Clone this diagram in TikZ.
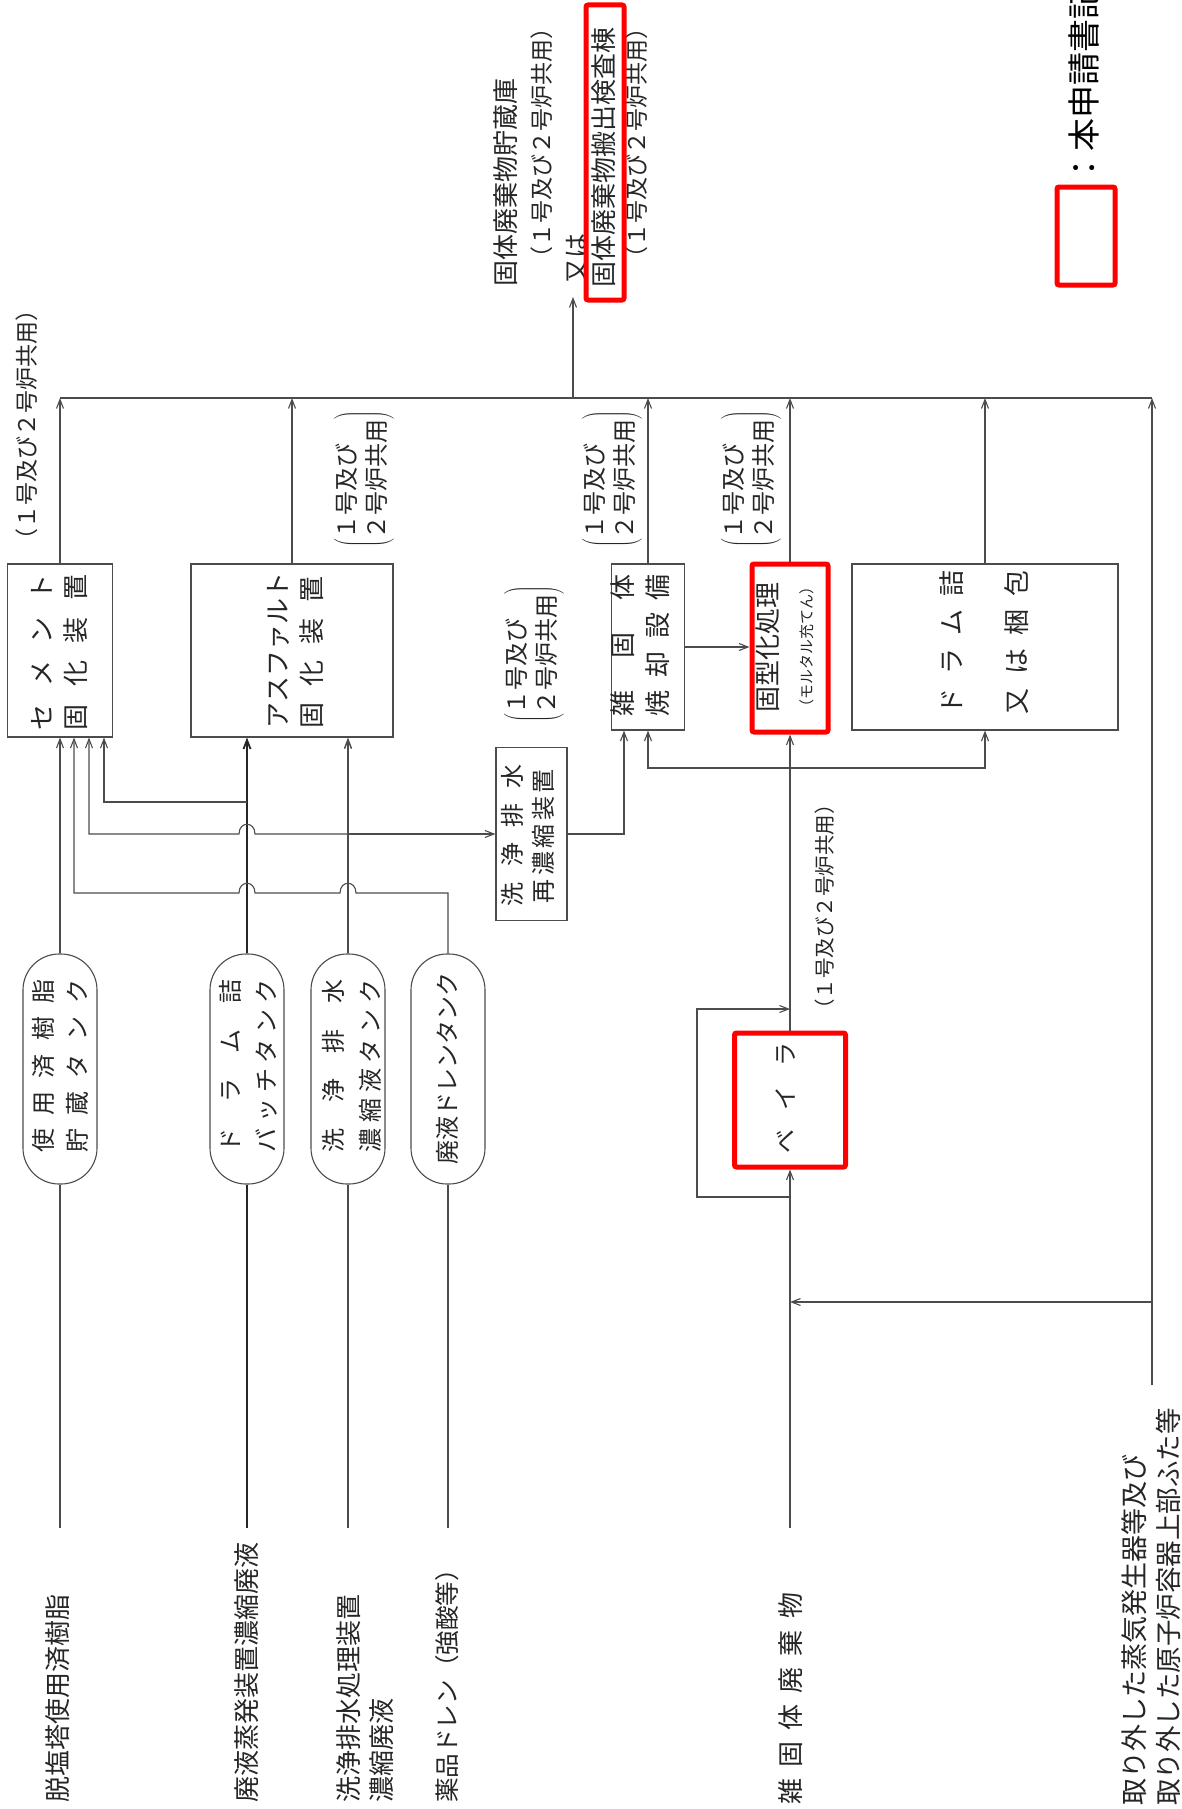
\documentclass[tikz,border=0pt]{standalone}
\usepackage{fontspec}
\setmainfont{Noto Sans CJK JP}
\usetikzlibrary{arrows.meta}
\newcommand\spr[2]{\makebox[#1]{#2}}
\newcommand\twolbl[2]{$\left(\vcenter{\hbox{\begin{tabular}{@{}l@{}}#1\\#2\end{tabular}}}\right)$}
\begin{document}
\begin{tikzpicture}[x=1pt,y=-1pt,
  ln/.style={line width=1.1pt, draw=black!70},
  thk/.style={line width=1.8pt, draw=black!85},
  arr/.style={-{Straight Barb[length=9pt,width=7pt]}},
  box/.style={draw=black!70, line width=1.1pt, inner sep=0pt},
  redbox/.style={draw=red, line width=5pt, rounded corners=2pt, inner sep=0pt},
  tank/.style={draw=black!70, line width=1.1pt, rounded corners=36pt, minimum width=74pt, minimum height=230pt, inner sep=0pt},
  txt/.style={rotate=90, inner sep=0pt, text=black!85},
  fA/.style={font=\fontsize{26}{30}\selectfont},
  fB/.style={font=\fontsize{24}{30}\selectfont},
  fC/.style={font=\fontsize{23}{28}\selectfont}
]
\fill[white] (0,0) rectangle (1182,1809);
\useasboundingbox (0,0) rectangle (1182,1809);

% ---------- boxes ----------
\node[box, minimum width=105pt, minimum height=173pt] (cem) at (60,650.5) {};
\node[box, minimum width=202pt, minimum height=173pt] (asp) at (292,650.5) {};
\node[box, minimum width=73pt, minimum height=166pt] (inc) at (648,647) {};
\node[redbox, minimum width=76pt, minimum height=168pt] (sol) at (790,648) {};
\node[box, minimum width=266pt, minimum height=166pt] (drm) at (985,647) {};
\node[box, minimum width=71pt, minimum height=173pt] (evp) at (531.5,834) {};
\node[redbox, minimum width=111pt, minimum height=134pt] (bal) at (790,1100) {};
\node[tank] (t1) at (60,1069) {};
\node[tank] (t2) at (247,1069) {};
\node[tank] (t3) at (348,1069) {};
\node[tank] (t4) at (448,1069) {};

% ---------- texts in boxes ----------
\node[txt,fA] (cemA) at (42,652) {\spr{156pt}{セ\hfill メ\hfill ン\hfill ト}};
\node[txt,fA] (cemB) at (76,652) {\spr{156pt}{固\hfill 化\hfill 装\hfill 置}};
\node[txt,fA] (aspA) at (278,650) {\spr{156pt}{ア\hfill ス\hfill フ\hfill ァ\hfill ル\hfill ト}};
\node[txt,fA] (aspB) at (312,652) {\spr{152pt}{固\hfill 化\hfill 装\hfill 置}};
\node[txt,fA] (incA) at (623,645) {\spr{142pt}{雑\hfill 固\hfill 体}};
\node[txt,fA] (incB) at (658,645) {\spr{142pt}{焼\hfill 却\hfill 設\hfill 備}};
\node[txt,fA] (solA) at (768,647) {固型化処理};
\node[txt,font=\fontsize{15}{18}\selectfont] (solB) at (807,647) {（モルタル充てん）};
\node[txt,fA] (drmA) at (952,642) {\spr{144pt}{ド\hfill ラ\hfill ム\hfill 詰}};
\node[txt,fA] (drmB) at (1017,642) {\spr{144pt}{又\hfill は\hfill 梱\hfill 包}};
\node[txt,fB] (evpA) at (512,835) {\spr{142pt}{洗\hfill 浄\hfill 排\hfill 水}};
\node[txt,fB] (evpB) at (543,836) {\spr{134pt}{再\hfill 濃\hfill 縮\hfill 装\hfill 置}};
\node[txt,fB] (balA) at (786,1098) {\spr{111pt}{ベ\hfill イ\hfill ラ}};
\node[txt,fB] (t1A) at (43,1066) {\spr{173pt}{使\hfill 用\hfill 済\hfill 樹\hfill 脂}};
\node[txt,fB] (t1B) at (77,1066) {\spr{173pt}{貯\hfill 蔵\hfill タ\hfill ン\hfill ク}};
\node[txt,fB] (t2A) at (230,1066) {\spr{173pt}{ド\hfill ラ\hfill ム\hfill 詰}};
\node[txt,fB] (t2B) at (267,1066) {\spr{173pt}{バ\hfill ッ\hfill チ\hfill タ\hfill ン\hfill ク}};
\node[txt,fB] (t3A) at (333,1066) {\spr{173pt}{洗\hfill 浄\hfill 排\hfill 水}};
\node[txt,fB] (t3B) at (370,1066) {\spr{173pt}{濃\hfill 縮\hfill 液\hfill タ\hfill ン\hfill ク}};
\node[txt,fB] (t4A) at (447,1068) {廃液ドレンタンク};

% ---------- labels ----------
\node[txt,fC,anchor=west] (cemL) at (27,552) {（１号及び２号炉共用）};
\node[txt,fB] (aspL) at (364,479) {\twolbl{１号及び}{２号炉共用}};
\node[txt,fB] (incL) at (612,479) {\twolbl{１号及び}{２号炉共用}};
\node[txt,fB] (solL) at (751,479) {\twolbl{１号及び}{２号炉共用}};
\node[txt,fB] (evpL) at (534,654) {\twolbl{１号及び}{２号炉共用}};
\node[txt,font=\fontsize{20.5}{24}\selectfont,anchor=west] (balL) at (825,1020) {（１号及び２号炉共用）};

% top destination block
\node[txt,fA,anchor=west] (dA) at (506,287) {固体廃棄物貯蔵庫};
\node[txt,fC,anchor=west] (dB) at (542,270) {（１号及び２号炉共用）};
\node[txt,font=\fontsize{25}{28}\selectfont,anchor=west] (dC) at (577,284) {又は};
\node[txt,fA,anchor=west] (dD) at (604,288) {固体廃棄物搬出検査棟};
\node[txt,fC,anchor=west] (dE) at (637,270) {（１号及び２号炉共用）};
\node[redbox, minimum width=38pt, minimum height=295pt] (hlD) at (605,152.5) {};

% bottom source labels
\node[txt,fA,anchor=west] (sA) at (58,1803) {脱塩塔使用済樹脂};
\node[txt,fA,anchor=west] (sB) at (247,1803) {廃液蒸発装置濃縮廃液};
\node[txt,fA,anchor=west] (sC1) at (349,1803) {洗浄排水処理装置};
\node[txt,fA,anchor=west] (sC2) at (382,1803) {濃縮廃液};
\node[txt,font=\fontsize{24.6}{28}\selectfont,anchor=west] (sD) at (447,1803) {薬品ドレン（強酸等）};
\node[txt,fA,anchor=west] (sE) at (791,1805) {\spr{212pt}{雑\hfill 固\hfill 体\hfill 廃\hfill 棄\hfill 物}};
\node[txt,font=\fontsize{27}{30}\selectfont,anchor=west] (sF1) at (1134,1806) {取り外した蒸気発生器等及び};
\node[txt,font=\fontsize{26.5}{30}\selectfont,anchor=west] (sF2) at (1168,1806) {取り外した原子炉容器上部ふた等};

% legend
\node[redbox, minimum width=58pt, minimum height=98pt] (leg) at (1086,236) {};
\node[rotate=90, inner sep=0pt, anchor=west, font=\fontsize{33}{36}\selectfont] (legT) at (1084,185) {：本申請書記};

% ---------- coordinates ----------
\coordinate (TL) at (60,398);
\coordinate (TR) at (1152,398);
\coordinate (OUT) at (573,398);
\coordinate (DEST) at (573,297);
\coordinate (RB) at (1152,1385);
\coordinate (J1) at (247,802);
\coordinate (J2) at (348,834);
\coordinate (J3) at (790,768);
\coordinate (J4) at (1152,1302);
\coordinate (L1) at (790,1197);
\coordinate (L2) at (790,1009);
\coordinate (L3) at (790,1302);
\coordinate (s1) at (60,1528);
\coordinate (s2) at (247,1528);
\coordinate (s3) at (348,1528);
\coordinate (s4) at (448,1528);
\coordinate (s5) at (790,1528);

% ---------- connectors ----------
\draw[ln] (TL) -- (TR);
\draw[ln,arr] (OUT) -- (DEST);
\draw[ln,arr] (cem.north) -- (cem.north |- TL);
\draw[ln,arr] (asp.north) -- (asp.north |- TL);
\draw[ln,arr] (inc.north) -- (inc.north |- TL);
\draw[ln,arr] (sol.north) -- (sol.north |- TL);
\draw[ln,arr] (drm.north) -- (drm.north |- TL);
\draw[ln,arr] (RB) -- (TR);

% sources to tanks
\draw[ln] (s1) -- (t1.south);
\draw[thk] (s2) -- (t2.south);
\draw[ln,line width=1.5pt] (s3) -- (t3.south);
\draw[ln] (s4) -- (t4.south);

% tanks to solidification
\draw[ln,arr] (t1.north) -- (t1.north |- cem.south);
\draw[thk,arr] (t2.north) -- (t2.north |- asp.south);
\draw[ln,line width=1.5pt,arr] (t3.north) -- (t3.north |- asp.south);
\draw[ln,arr] (J1) -| ([xshift=44pt]cem.south);
\draw[ln,arr] (J2) -- (255,834) .. controls (255,821) and (239,821) .. (239,834) -| ([xshift=29pt]cem.south);
\draw[ln,arr] (J2) -- (evp.west);
\draw[ln,arr] (t4.north) |- (356,893) .. controls (356,880) and (340,880) .. (340,893) -- (255,893) .. controls (255,880) and (239,880) .. (239,893) -| ([xshift=14pt]cem.south);
\draw[ln,arr] (evp.east) -| ([xshift=-24pt]inc.south);
\draw[ln,arr] (inc.east) -- (inc.east -| sol.west);

% miscellaneous solid waste
\draw[ln,arr] (s5) -- (bal.south);
\draw[ln,arr] (L1) -- (697,1197) -- (697,1009) -- (L2);
\draw[ln,arr] (bal.north) -- (sol.south);
\draw[ln,arr] (J3) -| (inc.south);
\draw[ln,arr] (J3) -| (drm.south);
\draw[ln,arr] (J4) -- (L3);
\end{tikzpicture}
\end{document}
